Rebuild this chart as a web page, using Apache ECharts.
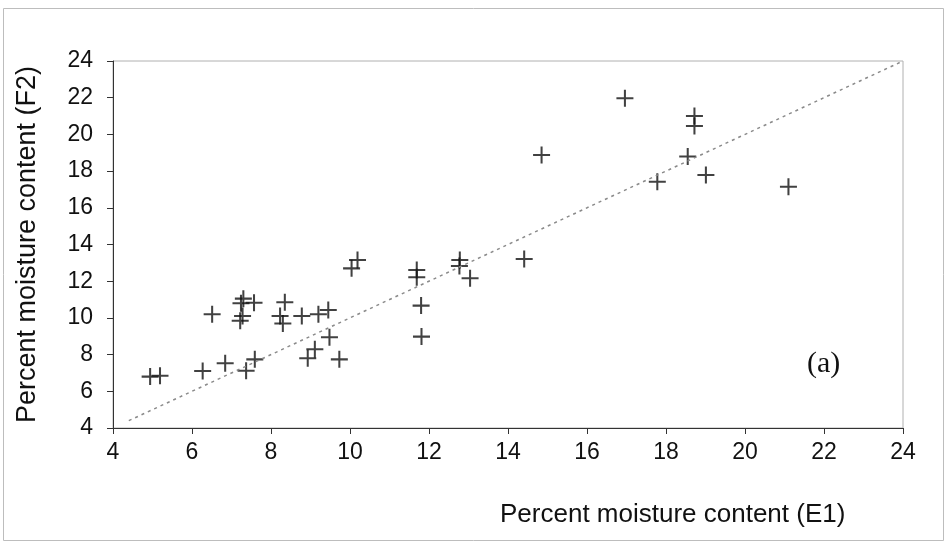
<!DOCTYPE html>
<html>
<head>
<meta charset="utf-8">
<script src="https://cdn.jsdelivr.net/npm/echarts@6/dist/echarts.min.js"></script>
<style>
html,body{margin:0;padding:0;background:#fff;}
#c{width:951px;height:548px;}
</style>
</head>
<body>
<div id="c"></div>
<script>
// Percent moisture content, method E1 (x) vs method F2 (y)
var e1 = [4.94, 5.19, 6.27, 6.51, 6.84, 7.37, 7.59, 7.22, 7.28, 7.24, 7.30, 7.57,
          8.35, 8.23, 8.30, 8.78, 9.20, 9.45, 9.48, 9.11, 8.93, 9.73,
          10.19, 10.04, 11.69, 11.69, 11.80, 11.81, 12.78, 12.77, 13.04, 14.41,
          14.85, 16.96, 18.72, 18.72, 18.55, 19.01, 17.78, 21.10];
var f2 = [6.80, 6.85, 7.11, 10.20, 7.53, 7.12, 7.74, 9.85, 10.10, 10.80, 11.05, 10.83,
          10.85, 10.10, 9.70, 10.10, 10.20, 10.43, 8.94, 8.29, 7.80, 7.74,
          13.16, 12.70, 12.61, 12.21, 10.67, 8.98, 13.16, 12.83, 12.16, 13.21,
          18.88, 21.97, 21.00, 20.46, 18.79, 17.79, 17.42, 17.15];
// 1:1 reference line
var lineVals = [4.4, 24];
var axisMin = 4, axisMax = 24, axisStep = 2;
var xName = 'Percent moisture content (E1)';
var yName = 'Percent moisture content (F2)';
var panelLabel = '(a)';

var pts = e1.map(function(v, i){ return [v, f2[i]]; });
var linePts = lineVals.map(function(v){ return [v, v]; });

var chart = echarts.init(document.getElementById('c'));
var font = 'Liberation Sans, Arial, sans-serif';
chart.setOption({
  animation: false,
  backgroundColor: '#fff',
  grid: {left: 113, right: 48, top: 61, bottom: 120, show: true, borderColor: '#b0b0b0', borderWidth: 1},
  xAxis: {
    type: 'value', min: axisMin, max: axisMax, interval: axisStep,
    axisLine: {show: true, onZero: false, lineStyle: {color: '#333', width: 1}},
    axisTick: {show: true, length: 6, lineStyle: {color: '#333'}},
    splitLine: {show: false},
    axisLabel: {fontFamily: font, fontSize: 23, color: '#111', margin: 13}
  },
  yAxis: {
    type: 'value', min: axisMin, max: axisMax, interval: axisStep,
    axisLine: {show: true, onZero: false, lineStyle: {color: '#333', width: 1}},
    axisTick: {show: true, length: 6, lineStyle: {color: '#333'}},
    splitLine: {show: false},
    axisLabel: {fontFamily: font, fontSize: 23, color: '#111', margin: 20},
    name: yName, nameLocation: 'middle', nameRotate: 90, nameGap: 72,
    nameTextStyle: {fontFamily: font, fontSize: 27, color: '#111'}
  },
  graphic: [
    {type: 'rect', shape: {x: 3.5, y: 8.5, width: 940, height: 532}, style: {fill: 'none', stroke: '#bdbdbd', lineWidth: 1}, z: -1},
    {type: 'text', left: 500, top: 502, style: {text: xName, font: '26px ' + font, fill: '#111'}},
    {type: 'text', left: 807, top: 349, style: {text: panelLabel, font: '30px "Liberation Serif", "Times New Roman", serif', fill: '#111'}}
  ],
  series: [
    {
      type: 'line', data: linePts, symbol: 'none', silent: true,
      lineStyle: {color: '#8a8a8a', width: 1.5, type: [3, 4]}
    },
    {
      type: 'scatter', data: pts,
      symbol: 'path://M4.4,0H5.6V4.4H10V5.6H5.6V10H4.4V5.6H0V4.4H4.4Z',
      symbolSize: 17,
      itemStyle: {color: '#111'}
    }
  ]
});
</script>
</body>
</html>
